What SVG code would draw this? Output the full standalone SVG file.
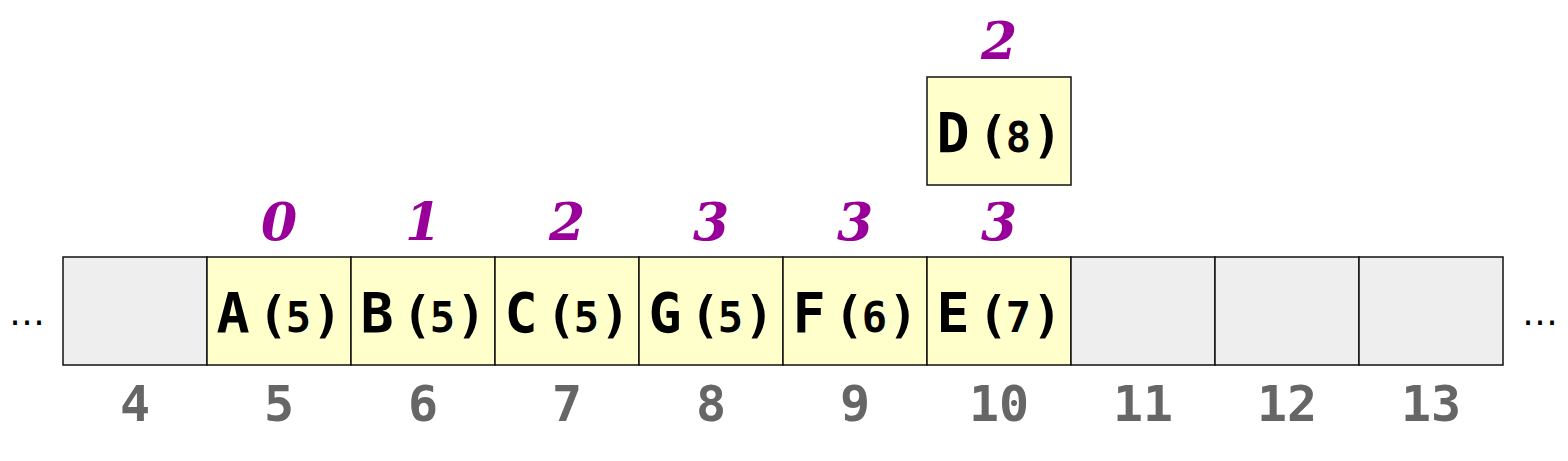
<svg xmlns="http://www.w3.org/2000/svg" width="1568" height="461" viewBox="0 0 1568 461">
<style>
.empty{fill:#eeeeee;stroke:#111;stroke-width:1.5}
.full{fill:#ffffcc;stroke:#111;stroke-width:1.5}
.let{font-family:"DejaVu Sans Mono",monospace;font-weight:bold;font-size:55px;fill:#000;text-anchor:middle}
.key{font-family:"DejaVu Sans Mono",monospace;font-weight:bold;font-size:50px;fill:#000;text-anchor:middle}
.num{font-size:42px}
.idx{font-family:"DejaVu Sans Mono",monospace;font-weight:bold;font-size:50px;fill:#666;text-anchor:middle}
.dist{font-family:"DejaVu Serif",serif;font-weight:bold;font-style:italic;font-size:52px;fill:#990099;text-anchor:middle}
.dots{font-family:"DejaVu Sans",sans-serif;font-size:36px;fill:#000;text-anchor:middle}
</style>
<rect width="1568" height="461" fill="#fff"/>
<text class="dots" x="27" y="325">…</text>
<text class="dots" x="1540" y="325">…</text>
<g id="cell4"><rect class="empty" x="63" y="257" width="144" height="108"/><text class="idx" x="135" y="421">4</text></g>
<g id="cell5"><rect class="full" x="207" y="257" width="144" height="108"/><text class="dist" x="279" y="240">0</text><text class="let" x="233" y="332">A</text><text class="key" y="332"><tspan x="273">(</tspan><tspan class="num" x="298.5">5</tspan><tspan x="327">)</tspan></text><text class="idx" x="279" y="421">5</text></g>
<g id="cell6"><rect class="full" x="351" y="257" width="144" height="108"/><text class="dist" x="423" y="240">1</text><text class="let" x="377" y="332">B</text><text class="key" y="332"><tspan x="417">(</tspan><tspan class="num" x="442.5">5</tspan><tspan x="471">)</tspan></text><text class="idx" x="423" y="421">6</text></g>
<g id="cell7"><rect class="full" x="495" y="257" width="144" height="108"/><text class="dist" x="567" y="240">2</text><text class="let" x="521" y="332">C</text><text class="key" y="332"><tspan x="561">(</tspan><tspan class="num" x="586.5">5</tspan><tspan x="615">)</tspan></text><text class="idx" x="567" y="421">7</text></g>
<g id="cell8"><rect class="full" x="639" y="257" width="144" height="108"/><text class="dist" x="711" y="240">3</text><text class="let" x="665" y="332">G</text><text class="key" y="332"><tspan x="705">(</tspan><tspan class="num" x="730.5">5</tspan><tspan x="759">)</tspan></text><text class="idx" x="711" y="421">8</text></g>
<g id="cell9"><rect class="full" x="783" y="257" width="144" height="108"/><text class="dist" x="855" y="240">3</text><text class="let" x="809" y="332">F</text><text class="key" y="332"><tspan x="849">(</tspan><tspan class="num" x="874.5">6</tspan><tspan x="903">)</tspan></text><text class="idx" x="855" y="421">9</text></g>
<g id="cell10"><rect class="full" x="927" y="257" width="144" height="108"/><text class="dist" x="999" y="240">3</text><text class="let" x="953" y="332">E</text><text class="key" y="332"><tspan x="993">(</tspan><tspan class="num" x="1018.5">7</tspan><tspan x="1047">)</tspan></text><text class="idx" x="999" y="421">10</text></g>
<g id="cell11"><rect class="empty" x="1071" y="257" width="144" height="108"/><text class="idx" x="1143" y="421">11</text></g>
<g id="cell12"><rect class="empty" x="1215" y="257" width="144" height="108"/><text class="idx" x="1287" y="421">12</text></g>
<g id="cell13"><rect class="empty" x="1359" y="257" width="144" height="108"/><text class="idx" x="1431" y="421">13</text></g>
<g id="nodeD"><rect class="full" x="927" y="77" width="144" height="108"/><text class="dist" x="999" y="59">2</text><text class="let" x="953" y="152">D</text><text class="key" y="152"><tspan x="993">(</tspan><tspan class="num" x="1018.5">8</tspan><tspan x="1047">)</tspan></text></g>
<g id="connectors"></g>
</svg>
